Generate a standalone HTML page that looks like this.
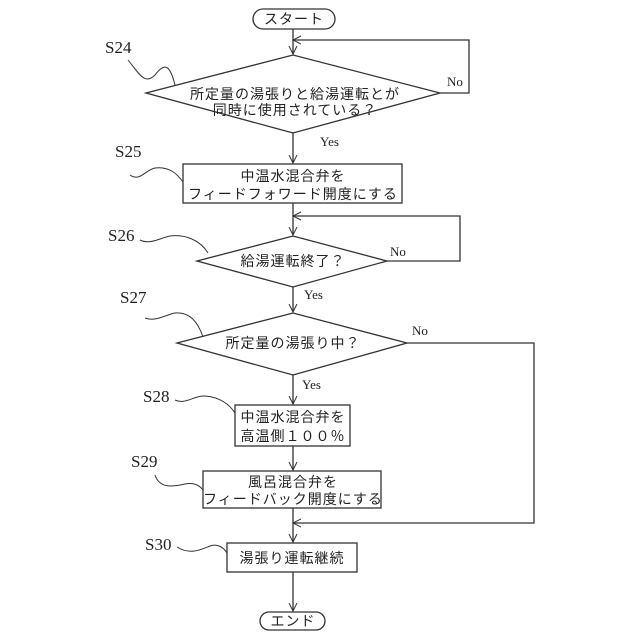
<!DOCTYPE html>
<html><head><meta charset="utf-8"><style>
body{margin:0;background:#fff}
svg{display:block}
text{font-family:"Liberation Serif","Noto Sans CJK JP",serif;fill:#222}
.j{font-family:"Liberation Sans","Noto Sans CJK JP",sans-serif;font-size:14px;letter-spacing:1px}
.s{font-size:17px}
.y{font-size:13px}
</style></head><body>
<svg width="640" height="640" viewBox="0 0 640 640" xmlns="http://www.w3.org/2000/svg">
<defs><marker id="a" markerWidth="10" markerHeight="10" refX="8" refY="5" orient="auto" markerUnits="userSpaceOnUse"><path d="M0,1 L8,5 L0,9" fill="none" stroke="#333" stroke-width="1"/></marker></defs>
<g fill="none" stroke="#333" stroke-width="1.3">
<rect x="253" y="9" width="82" height="20" rx="10"/>
<line x1="293" y1="29" x2="293" y2="54" marker-end="url(#a)"/>
<polyline points="440,93 469,93 469,40 293,40" marker-end="url(#a)"/>
<polygon points="146,93 293,55 440,93 293,133"/>
<line x1="293" y1="133" x2="293" y2="163" marker-end="url(#a)"/>
<rect x="183" y="164" width="219" height="39"/>
<line x1="293" y1="203" x2="293" y2="235" marker-end="url(#a)"/>
<polyline points="387,261 460,261 460,216 293,216" marker-end="url(#a)"/>
<polygon points="197,261 293,236 387,261 293,287"/>
<line x1="293" y1="287" x2="293" y2="312" marker-end="url(#a)"/>
<polygon points="177,343 293,313 407,343 293,375"/>
<line x1="293" y1="375" x2="293" y2="404" marker-end="url(#a)"/>
<rect x="235" y="405" width="115" height="41"/>
<line x1="293" y1="446" x2="293" y2="470" marker-end="url(#a)"/>
<rect x="203" y="471" width="178" height="37"/>
<line x1="293" y1="508" x2="293" y2="542" marker-end="url(#a)"/>
<polyline points="407,343 534,343 534,523 293,523" marker-end="url(#a)"/>
<rect x="227" y="543" width="130" height="29"/>
<line x1="293" y1="572" x2="293" y2="611" marker-end="url(#a)"/>
<rect x="260" y="612" width="65" height="18" rx="9"/>
<g stroke-width="1">
<path d="M128,60 C140,75 145,85 155,75 C165,62 170,65 175,85"/>
<path d="M130,175 C140,182 145,170 155,168 C170,166 178,175 183,182"/>
<path d="M140,240 C150,245 160,238 170,236 C185,234 200,240 208,253"/>
<path d="M145,318 C155,322 165,315 175,313 C190,312 198,322 203,337"/>
<path d="M175,400 C185,405 195,395 205,396 C220,397 230,405 235,413"/>
<path d="M155,475 C160,490 175,486 185,484 C195,482 200,486 203,490"/>
<path d="M177,547 C190,555 200,550 210,546 C218,543 224,548 227,553"/>
</g>
</g>
<text x="294" y="24" text-anchor="middle" class="j">スタート</text>
<text x="295" y="99" text-anchor="middle" class="j">所定量の湯張りと給湯運転とが</text>
<text x="295" y="115" text-anchor="middle" class="j">同時に使用されている？</text>
<text x="447" y="86" class="y">No</text>
<text x="320" y="146" class="y">Yes</text>
<text x="293" y="181" text-anchor="middle" class="j">中温水混合弁を</text>
<text x="293" y="199" text-anchor="middle" class="j">フィードフォワード開度にする</text>
<text x="293" y="266" text-anchor="middle" class="j">給湯運転終了？</text>
<text x="390" y="256" class="y">No</text>
<text x="304" y="299" class="y">Yes</text>
<text x="293" y="348" text-anchor="middle" class="j">所定量の湯張り中？</text>
<text x="412" y="335" class="y">No</text>
<text x="302" y="389" class="y">Yes</text>
<text x="293" y="422" text-anchor="middle" class="j">中温水混合弁を</text>
<text x="293" y="441" text-anchor="middle" class="j">高温側１００％</text>
<text x="293" y="487" text-anchor="middle" class="j">風呂混合弁を</text>
<text x="293" y="504" text-anchor="middle" class="j">フィードバック開度にする</text>
<text x="292" y="563" text-anchor="middle" class="j">湯張り運転継続</text>
<text x="293" y="626" text-anchor="middle" class="j">エンド</text>
<text x="105" y="53" class="s">S24</text>
<text x="115" y="157" class="s">S25</text>
<text x="108" y="241" class="s">S26</text>
<text x="120" y="303" class="s">S27</text>
<text x="143" y="402" class="s">S28</text>
<text x="131" y="467" class="s">S29</text>
<text x="145" y="550" class="s">S30</text>
</svg>
</body></html>
